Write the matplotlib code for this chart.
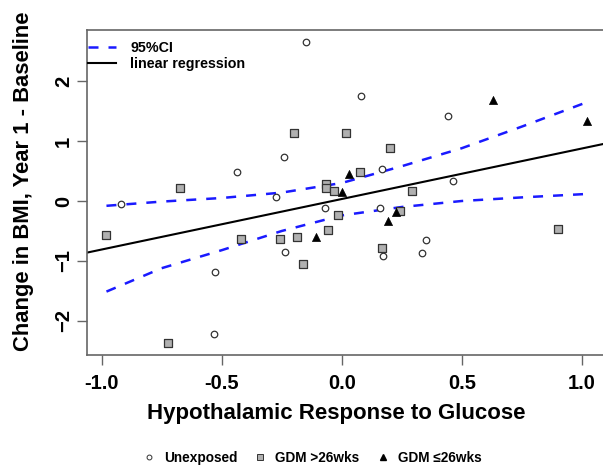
import matplotlib
matplotlib.use('Agg')
import matplotlib.pyplot as plt
from matplotlib.lines import Line2D

plt.rcParams['font.family'] = ['Liberation Sans', 'DejaVu Sans']
plt.rcParams['font.weight'] = 'bold'

# unexposed (open circles)
unexp_x = [-0.149, 0.079, -0.24, -0.436, 0.444, 0.167, 0.462, -0.92, -0.274,
           -0.07, 0.16, -0.236, -0.528, -0.534, 0.351, 0.171, 0.336]
unexp_y = [2.65, 1.755, 0.74, 0.49, 1.42, 0.53, 0.33, -0.05, 0.06,
           -0.12, -0.11, -0.855, -1.18, -2.21, -0.645, -0.91, -0.87]

# GDM >26wks (grey squares)
late_x = [-0.197, 0.017, -0.674, -0.067, -0.065, -0.031, 0.199, 0.078, 0.293, -0.982,
          -0.014, -0.421, -0.258, -0.185, -0.058, -0.161, -0.722, 0.243, 0.167, 0.901]
late_y = [1.13, 1.14, 0.22, 0.28, 0.21, 0.17, 0.88, 0.48, 0.16, -0.57,
          -0.24, -0.63, -0.63, -0.6, -0.49, -1.05, -2.37, -0.17, -0.78, -0.46]

# GDM <=26wks (black triangles)
early_x = [0.032, 0.0, 0.632, 1.021, -0.108, 0.228, 0.194]
early_y = [0.455, 0.145, 1.68, 1.34, -0.595, -0.19, -0.34]

# regression line and 95% CI
intercept = 0.033
slope = 0.842
ci_x = [-0.98, -0.75, -0.5, -0.25, 0.0, 0.25, 0.5, 0.75, 1.02]
ci_upper = [-0.08, -0.01, 0.05, 0.14, 0.30, 0.58, 0.88, 1.24, 1.645]
ci_lower = [-1.51, -1.12, -0.82, -0.50, -0.24, -0.10, 0.00, 0.06, 0.117]

fig = plt.figure(figsize=(6.03, 4.66), dpi=100)
ax = fig.add_axes([0.1443, 0.2382, 0.866, 0.6974])

ax.plot(ci_x, ci_upper, color='#1a1aff', lw=1.8, linestyle=(0, (4, 4)))
ax.plot(ci_x, ci_lower, color='#1a1aff', lw=1.8, linestyle=(0, (4, 4)))
ax.axline((0, intercept), slope=slope, color='black', lw=1.5)

ax.scatter(unexp_x, unexp_y, s=22, marker='o', facecolors='white', edgecolors='#333333', linewidths=0.9, zorder=3)
ax.scatter(late_x, late_y, s=30, marker='s', facecolors='#b0b0b0', edgecolors='#333333', linewidths=0.9, zorder=3)
ax.scatter(early_x, early_y, s=34, marker='^', facecolors='black', edgecolors='black', linewidths=0.5, zorder=3)

ax.set_xlim(-1.061, 1.114)
ax.set_ylim(-2.567, 2.85)
ax.set_xticks([-1.0, -0.5, 0.0, 0.5, 1.0])
ax.set_xticklabels(['-1.0', '-0.5', '0.0', '0.5', '1.0'])
ax.set_yticks([-2, -1, 0, 1, 2])
for lab in ax.get_yticklabels():
    lab.set_rotation(90)
    lab.set_va('center')

for sp in ax.spines.values():
    sp.set_color('#666666')
    sp.set_linewidth(1.2)
ax.tick_params(axis='both', length=7, width=1.0, color='#666666', labelsize=14.5, pad=4)
ax.tick_params(axis='x', pad=7)
ax.tick_params(axis='y', pad=3)

ax.set_xlabel('Hypothalamic Response to Glucose', fontsize=16, fontweight='bold')
ax.set_ylabel('Change in BMI, Year 1 - Baseline', fontsize=15.8, fontweight='bold')
ax.xaxis.set_label_coords(0.477, -0.148)
ax.yaxis.set_label_coords(-0.101, 0.535)

top_handles = [
    Line2D([], [], color='#1a1aff', lw=1.8, linestyle=(0, (4, 4))),
    Line2D([], [], color='black', lw=1.5),
]
ax.legend(top_handles, ['95%CI', 'linear regression'], loc='upper left', frameon=False,
          prop={'size': 10.3, 'weight': 'bold'}, handlelength=2.0, handletextpad=1.0,
          borderaxespad=0.0, labelspacing=0.15, bbox_to_anchor=(-0.01, 0.985))

bottom_handles = [
    Line2D([], [], marker='o', linestyle='none', markersize=3.5, markerfacecolor='white', markeredgecolor='#333333', markeredgewidth=0.7),
    Line2D([], [], marker='s', linestyle='none', markersize=4, markerfacecolor='#b0b0b0', markeredgecolor='#333333', markeredgewidth=0.7),
    Line2D([], [], marker='^', linestyle='none', markersize=4, markerfacecolor='black', markeredgecolor='black'),
]
fig.legend(bottom_handles, ['Unexposed', 'GDM >26wks', 'GDM ≤26wks'], loc='center',
           bbox_to_anchor=(0.517, 0.017), ncol=3, frameon=False, prop={'size': 9.8, 'weight': 'bold'},
           handlelength=1.0, handletextpad=0.6, columnspacing=1.2)

fig.savefig('out.png', dpi=100)
